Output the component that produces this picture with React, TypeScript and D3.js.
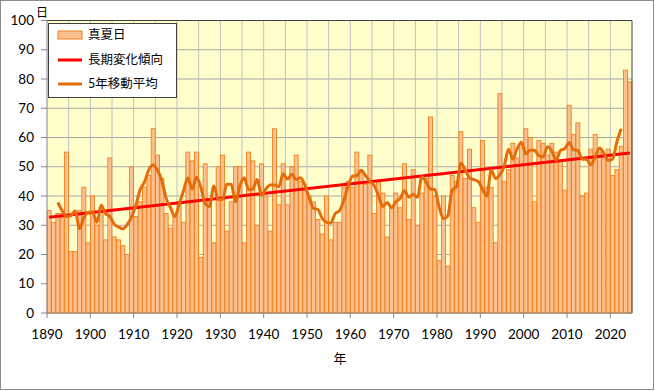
import React from "react";
import * as d3 from "d3";

const W = 655;
const H = 391;
const MARGIN = { top: 20.5, right: 23, bottom: 78, left: 47 };

const startYear = 1890;
// 真夏日の日数 (1890-2024)
const days = [
  35, 31, 34, 34, 55, 21, 21, 35, 43, 24,
  40, 30, 36, 25, 53, 26, 25, 23, 20, 50,
  33, 38, 43, 47, 63, 54, 46, 34, 29, 33,
  38, 31, 55, 52, 55, 19, 51, 38, 24, 50,
  54, 28, 38, 50, 50, 24, 55, 52, 30, 51,
  40, 28, 63, 37, 51, 37, 50, 54, 45, 42,
  40, 38, 32, 27, 40, 25, 31, 31, 43, 45,
  43, 55, 48, 44, 54, 34, 45, 41, 26, 36,
  41, 36, 51, 32, 49, 30, 41, 46, 67, 40,
  18, 40, 16, 47, 45, 62, 46, 56, 36, 31,
  59, 43, 43, 24, 75, 45, 49, 58, 53, 58,
  63, 60, 38, 59, 58, 54, 58, 55, 52, 42,
  71, 61, 65, 40, 41, 56, 61, 55, 54, 56,
  47, 49, 57, 83, 79,
];
const years = days.map((_, i) => startYear + i);
const yTicks = d3.range(0, 101, 10);
const xLabelYears = d3.range(1890, 2021, 10);
const gridYears = d3.range(1895, 2025, 5);

const legendItems = ["真夏日", "長期変化傾向", "5年移動平均"];

const BAR_FILL = "#FAC090";
const BAR_STROKE = "#F0801E";
const MA_COLOR = "#E46C0A";
const TREND_COLOR = "#FF0000";
const FONT = "Lato, 'Noto Sans CJK JP', sans-serif";

export default function App() {
  const right = W - MARGIN.right;
  const bottom = H - MARGIN.bottom; // 313

  const x = d3
    .scaleBand<number>()
    .domain(years)
    .range([MARGIN.left, right])
    .paddingInner(0.08)
    .paddingOuter(0.04);
  const step = x.step();
  const edge = (yr: number) => MARGIN.left + (yr - startYear) * step;

  const y = d3.scaleLinear().domain([0, 100]).range([bottom, MARGIN.top]);

  // 5-year centred moving average
  const ma: [number, number][] = [];
  for (let i = 2; i < days.length - 2; i++) {
    ma.push([years[i], d3.mean(days.slice(i - 2, i + 3)) as number]);
  }

  // least squares trend
  const mx = d3.mean(years) as number;
  const my = d3.mean(days) as number;
  const slope =
    d3.sum(years, (yr, i) => (yr - mx) * (days[i] - my)) /
    d3.sum(years, (yr) => (yr - mx) ** 2);
  const trend = (yr: number) => my + slope * (yr - mx);

  const cx = (yr: number) => (x(yr) as number) + x.bandwidth() / 2;
  const line = d3
    .line<[number, number]>()
    .x((d) => cx(d[0]))
    .y((d) => y(d[1]))
    .curve(d3.curveMonotoneX);

  const first = years[0];
  const last = years[years.length - 1];

  return (
    <svg
      width={W}
      height={H}
      style={{ position: "absolute", left: 0, top: 0, background: "#fff" }}
      fontFamily={FONT}
    >
      <rect x={0.5} y={0.5} width={W - 2} height={H - 2} fill="#fff" stroke="#8c8c8c" />

      {/* plot area */}
      <rect
        x={MARGIN.left}
        y={MARGIN.top}
        width={right - MARGIN.left}
        height={bottom - MARGIN.top}
        fill="#FFFFCC"
      />
      {yTicks.map((t) => (
        <line key={"gy" + t} x1={MARGIN.left} x2={right} y1={y(t)} y2={y(t)} stroke="#a6a6a6" />
      ))}
      {gridYears.map((yr) => (
        <line key={"gx" + yr} x1={edge(yr)} x2={edge(yr)} y1={MARGIN.top} y2={bottom} stroke="#c0c0c0" />
      ))}

      {/* bars */}
      {years.map((yr, i) => (
        <rect
          key={yr}
          x={x(yr)}
          y={y(days[i])}
          width={x.bandwidth()}
          height={bottom - y(days[i])}
          fill={BAR_FILL}
          stroke={BAR_STROKE}
          strokeWidth={0.9}
        />
      ))}

      {/* trend */}
      <line
        x1={cx(first)}
        x2={cx(last)}
        y1={y(trend(first))}
        y2={y(trend(last))}
        stroke={TREND_COLOR}
        strokeWidth={3}
      />
      {/* moving average */}
      <path d={line(ma) || ""} fill="none" stroke={MA_COLOR} strokeWidth={3} strokeLinejoin="round" />

      {/* plot border */}
      <line x1={MARGIN.left} x2={right} y1={MARGIN.top} y2={MARGIN.top} stroke="#404040" />
      <line x1={right} x2={right} y1={MARGIN.top} y2={bottom} stroke="#404040" />

      {/* y axis */}
      <line x1={MARGIN.left} x2={MARGIN.left} y1={MARGIN.top} y2={bottom} stroke="#868686" />
      {yTicks.map((t) => (
        <g key={"yt" + t}>
          <line x1={MARGIN.left - 6} x2={MARGIN.left} y1={y(t)} y2={y(t)} stroke="#868686" />
          <text x={34} y={y(t)} dy="0.35em" textAnchor="end" fontSize={13.5} fill="#000">
            {t}
          </text>
        </g>
      ))}
      <text x={42} y={13} dy="0.35em" textAnchor="middle" fontSize={12} fill="#000">
        日
      </text>

      {/* x axis */}
      <line x1={MARGIN.left} x2={right} y1={bottom} y2={bottom} stroke="#868686" />
      {xLabelYears.map((yr) => (
        <g key={"xt" + yr}>
          <line x1={edge(yr)} x2={edge(yr)} y1={bottom} y2={bottom + 5} stroke="#868686" />
          <text x={edge(yr)} y={334} dy="0.35em" textAnchor="middle" fontSize={13.5} fill="#000">
            {yr}
          </text>
        </g>
      ))}
      <text x={340} y={358} dy="0.35em" textAnchor="middle" fontSize={13} fill="#000">
        年
      </text>

      {/* legend */}
      <g>
        <rect x={48.5} y={23.5} width={128} height={74} fill="#fff" stroke="#404040" />
        <rect x={58} y={31} width={24} height={8} fill={BAR_FILL} stroke={BAR_STROKE} />
        <line x1={58} x2={82} y1={60} y2={60} stroke={TREND_COLOR} strokeWidth={3} />
        <line x1={58} x2={82} y1={84} y2={84} stroke={MA_COLOR} strokeWidth={3} />
        {legendItems.map((t, i) => (
          <text key={t} x={88} y={35 + i * 24.5} dy="0.35em" fontSize={12.5} fill="#000">
            {t}
          </text>
        ))}
      </g>
    </svg>
  );
}
